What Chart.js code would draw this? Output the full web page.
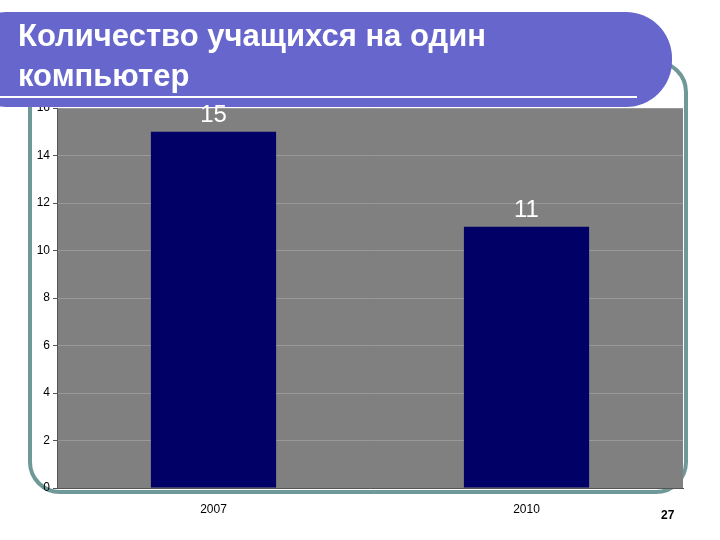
<!DOCTYPE html>
<html>
<head>
<meta charset="utf-8">
<script src="https://cdn.jsdelivr.net/npm/chart.js@4"></script>
<style>
  body { margin: 0; background: #fff; }
  #wrap { width: 720px; height: 540px; position: relative; }
</style>
</head>
<body>
<div id="wrap"><canvas id="slide"></canvas></div>
<script>
const years = ['2007', '2010'];
const students = [15, 11];
const yTicks = [0, 2, 4, 6, 8, 10, 12, 14, 16];

// frame, plot background, title banner, value labels
const slideDeco = {
  id: 'slideDeco',
  beforeDraw(chart) {
    const c = chart.ctx, a = chart.chartArea;
    c.save();
    c.strokeStyle = '#6f9898';
    c.lineWidth = 4;
    c.beginPath();
    c.roundRect(30, 62, 656, 430, 30);
    c.stroke();
    c.fillStyle = '#808080';
    c.fillRect(a.left, a.top, a.right - a.left, a.bottom - a.top);
    c.restore();
  },
  afterDraw(chart) {
    const c = chart.ctx;
    c.save();
    c.fillStyle = '#6666cc';
    c.beginPath();
    c.roundRect(-40, 12, 712, 95, 46);
    c.fill();
    c.strokeStyle = '#fff';
    c.lineWidth = 2;
    c.beginPath();
    c.moveTo(0, 97); c.lineTo(637, 97);
    c.stroke();
    c.fillStyle = '#fff';
    c.font = 'bold 31px "Liberation Sans", Arial, sans-serif';
    c.textBaseline = 'alphabetic';
    c.fillText('Количество учащихся на один', 18, 46);
    c.fillText('компьютер', 18, 86);

    c.fillStyle = '#fff';
    c.font = '24px "Liberation Sans", Arial, sans-serif';
    c.textAlign = 'center';
    c.textBaseline = 'bottom';
    chart.getDatasetMeta(0).data.forEach((bar, i) => {
      c.fillText(String(students[i]), bar.x, bar.y - 4);
    });

    c.fillStyle = '#000';
    c.font = 'bold 12px "Liberation Sans", Arial, sans-serif';
    c.textAlign = 'left';
    c.fillText('27', 661, 522);
    c.restore();
  }
};

new Chart(document.getElementById('slide'), {
  type: 'bar',
  data: {
    labels: years,
    datasets: [{
      data: students,
      backgroundColor: '#000066',
      barPercentage: 0.4,
      categoryPercentage: 1
    }]
  },
  options: {
    responsive: true,
    maintainAspectRatio: false,
    animation: false,
    layout: { padding: { top: 108, right: 37, left: 0, bottom: 0 } },
    plugins: { legend: { display: false }, tooltip: { enabled: false } },
    scales: {
      x: {
        grid: { display: false, drawTicks: false },
        border: { color: '#555' },
        ticks: { color: '#000', padding: 14, font: { size: 12, family: 'Liberation Sans' } },
        afterFit(s) { s.height = 52; }
      },
      y: {
        min: 0, max: 16,
        afterBuildTicks(s) { s.ticks = yTicks.map(v => ({ value: v })); },
        grid: { color: '#999', tickColor: '#555', tickLength: 4 },
        border: { color: '#555' },
        ticks: { color: '#000', padding: 3, font: { size: 12, family: 'Liberation Sans' } },
        afterFit(s) { s.width = 57; }
      }
    }
  },
  plugins: [slideDeco]
});
</script>
</body>
</html>
